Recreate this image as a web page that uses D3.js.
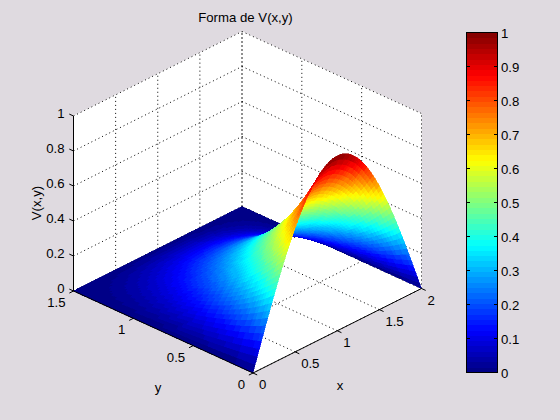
<!DOCTYPE html>
<html><head><meta charset="utf-8">
<script src="https://cdn.jsdelivr.net/npm/d3@7"></script>
<style>
html,body{margin:0;padding:0;background:#dfdae0;}
svg{display:block;}
text{font-family:"Liberation Sans",Arial,sans-serif;font-size:13.2px;fill:#000;}
</style></head><body>
<div id="chart"></div>
<script>
// Data
const titleText = "Forma de V(x,y)";
const xTicks = [0, 0.5, 1, 1.5, 2];
const yTicks = [0, 0.5, 1, 1.5];
const zTicks = [0, 0.2, 0.4, 0.6, 0.8, 1];
const barTicks = [0, 0.1, 0.2, 0.3, 0.4, 0.5, 0.6, 0.7, 0.8, 0.9, 1];
const xLabels = ["0", "0.5", "1", "1.5", "2"];
const yLabels = ["0", "0.5", "1", "1.5"];
const xStart = 0, xEnd = 2, yStart = 0, yEnd = 1.5;
// V along the edge y=0, at equal steps over x in [0,2]
const ridgeProfile = [0,.0393,.0785,.1175,.1564,.1951,.2334,.2714,.3090,.3461,.3827,.4187,.4540,.4886,.5225,.5556,.5878,.6191,.6494,.6788,.7071,.7343,.7604,.7853,.8090,.8315,.8526,.8725,.8910,.9081,.9239,.9382,.9511,.9625,.9724,.9808,.9877,.9932,.9969,.9992,1,.9992,.9969,.9932,.9877,.9808,.9724,.9625,.9511,.9382,.9239,.9081,.8910,.8725,.8526,.8315,.8090,.7853,.7604,.7343,.7071,.6788,.6494,.6191,.5878,.5556,.5225,.4886,.4540,.4187,.3827,.3461,.3090,.2714,.2334,.1951,.1564,.1175,.0785,.0393,0];
// Falloff of V with y, at equal steps over y in [0,1.5]
const falloffProfile = [1,.9608,.9231,.8868,.8518,.8182,.7858,.7546,.7246,.6958,.6679,.6412,.6154,.5905,.5666,.5436,.5213,.4999,.4793,.4594,.4402,.4217,.4038,.3866,.3699,.3539,.3383,.3233,.3088,.2948,.2812,.2681,.2553,.2430,.2310,.2194,.2082,.1972,.1866,.1762,.1662,.1561,.1466,.1373,.1282,.1193,.1105,.1019,.0935,.0852,.0771,.0690,.0611,.0532,.0455,.0378,.0302,.0226,.0150,.0075,0];

const W = 560, H = 420;
const svg = d3.select("#chart").append("svg").attr("width", W).attr("height", H);

// Projection: each data axis contributes a screen offset through its own scales
const originX = 253, originY = 373;
const xToPx = d3.scaleLinear().domain([0, 2]).range([0, 168.5]);
const xToPy = d3.scaleLinear().domain([0, 2]).range([0, -84.5]);
const yToPx = d3.scaleLinear().domain([0, 1.5]).range([0, -179.5]);
const yToPy = d3.scaleLinear().domain([0, 1.5]).range([0, -82]);
const zToPy = d3.scaleLinear().domain([0, 1]).range([0, -175]);
const P = (x, y, z) => [originX + xToPx(x) + yToPx(y), originY + xToPy(x) + yToPy(y) + zToPy(z)];
const poly = pts => pts.map(p => p.join(",")).join(" ");

// 64-level jet colormap
const clamp01 = v => Math.max(0, Math.min(1, v));
const jetColors = d3.range(64).map(i => {
  const t = (i + 0.5) / 64;
  const r = clamp01(Math.min(4 * t - 1.5, -4 * t + 4.5));
  const g = clamp01(Math.min(4 * t - 0.5, -4 * t + 3.5));
  const b = clamp01(Math.min(4 * t + 0.5, -4 * t + 2.5));
  return d3.rgb(r * 255, g * 255, b * 255).formatHex();
});
const colorScale = d3.scaleQuantize().domain([0, 1]).range(jetColors);

// Box: floor and the two back walls
const boxG = svg.append("g");
const faces = [
  [P(0,0,0), P(2,0,0), P(2,1.5,0), P(0,1.5,0)],
  [P(0,1.5,0), P(2,1.5,0), P(2,1.5,1), P(0,1.5,1)],
  [P(2,1.5,0), P(2,0,0), P(2,0,1), P(2,1.5,1)]
];
boxG.selectAll("polygon").data(faces).join("polygon")
  .attr("points", poly).attr("fill", "#fff").attr("stroke", "#fff").attr("stroke-width", 0.5);

// Dotted grid
const gridSegs = [];
xTicks.forEach(x => {
  gridSegs.push([P(x,0,0), P(x,1.5,0)]);
  gridSegs.push([P(x,1.5,0), P(x,1.5,1)]);
});
yTicks.forEach(y => {
  gridSegs.push([P(2,y,0), P(2,y,1)]);
  gridSegs.push([P(0,y,0), P(2,y,0)]);
});
zTicks.forEach(z => {
  gridSegs.push([P(0,1.5,z), P(2,1.5,z)]);
  gridSegs.push([P(2,1.5,z), P(2,0,z)]);
});
boxG.append("g").selectAll("line").data(gridSegs).join("line")
  .attr("x1", d => d[0][0]).attr("y1", d => d[0][1])
  .attr("x2", d => d[1][0]).attr("y2", d => d[1][1])
  .attr("stroke", "#000").attr("stroke-width", 1).attr("stroke-dasharray", "1 3");

// Surface cells, far corner first
const xGrid = ridgeProfile.map((_, i) => xStart + (xEnd - xStart) * i / (ridgeProfile.length - 1));
const yGrid = falloffProfile.map((_, j) => yStart + (yEnd - yStart) * j / (falloffProfile.length - 1));
const V = (i, j) => ridgeProfile[i] * falloffProfile[j];
const cells = [];
for (let i = xGrid.length - 2; i >= 0; i--) {
  for (let j = yGrid.length - 2; j >= 0; j--) {
    const corners = [[i,j],[i+1,j],[i+1,j+1],[i,j+1]];
    cells.push({
      pts: corners.map(([a,b]) => P(xGrid[a], yGrid[b], V(a,b))),
      v: d3.mean(corners, ([a,b]) => V(a,b))
    });
  }
}
svg.append("g").attr("shape-rendering", "crispEdges")
  .selectAll("polygon").data(cells).join("polygon")
  .attr("points", d => poly(d.pts))
  .attr("fill", d => colorScale(d.v))
  .attr("stroke", d => colorScale(d.v))
  .attr("stroke-width", 0.6);

// Solid axis lines and ticks
const axisSegs = [
  [P(0,0,0), P(2,0,0)],
  [P(0,0,0), P(0,1.5,0)],
  [P(0,1.5,0), P(0,1.5,1)]
];
const tickLen = 0.035;
xTicks.forEach(x => axisSegs.push([P(x,0,0), P(x,-tickLen,0)]));
yTicks.forEach(y => axisSegs.push([P(0,y,0), P(-tickLen*1.4,y,0)]));
zTicks.forEach(z => axisSegs.push([P(0,1.5,z), P(0,1.5+tickLen,z)]));
svg.append("g").selectAll("line").data(axisSegs).join("line")
  .attr("x1", d => d[0][0]).attr("y1", d => d[0][1])
  .attr("x2", d => d[1][0]).attr("y2", d => d[1][1])
  .attr("stroke", "#000").attr("stroke-width", 1);

// Tick labels
const labelsG = svg.append("g");
labelsG.selectAll("text.xl").data(xTicks).join("text").attr("class", "xl")
  .attr("x", d => P(d,0,0)[0] + 6).attr("y", d => P(d,0,0)[1] + 16)
  .attr("text-anchor", "start").text((d, i) => xLabels[i]);
labelsG.selectAll("text.yl").data(yTicks).join("text").attr("class", "yl")
  .attr("x", d => P(0,d,0)[0] - 8).attr("y", d => P(0,d,0)[1] + 16)
  .attr("text-anchor", "end").text((d, i) => yLabels[i]);
labelsG.selectAll("text.zl").data(zTicks).join("text").attr("class", "zl")
  .attr("x", d => P(0,1.5,d)[0] - 9).attr("y", d => P(0,1.5,d)[1] + 2)
  .attr("text-anchor", "end").text(d => d);

// Title and axis labels
svg.append("text").attr("x", 245.5).attr("y", 22).attr("text-anchor", "middle").text(titleText);
svg.append("text").attr("x", 340).attr("y", 390).attr("text-anchor", "middle").text("x");
svg.append("text").attr("x", 158).attr("y", 392).attr("text-anchor", "middle").text("y");
svg.append("text").attr("transform", "translate(40.5,203) rotate(-90)").attr("text-anchor", "middle").text("V(x,y)");

// Colorbar
const barX0 = 466.5, barX1 = 497, barTop = 32.5, barBottom = 372.5;
const barScale = d3.scaleLinear().domain([0, 1]).range([barBottom, barTop]);
const barG = svg.append("g").attr("shape-rendering", "crispEdges");
barG.selectAll("rect").data(jetColors).join("rect")
  .attr("x", barX0).attr("width", barX1 - barX0)
  .attr("y", (d, i) => barScale((i + 1) / 64))
  .attr("height", (d, i) => barScale(i / 64) - barScale((i + 1) / 64) + 0.5)
  .attr("fill", d => d);
barG.append("rect").attr("x", barX0).attr("y", barTop).attr("width", barX1 - barX0).attr("height", barBottom - barTop)
  .attr("fill", "none").attr("stroke", "#000");
barG.selectAll("line.l").data(barTicks).join("line").attr("class", "l")
  .attr("x1", barX0).attr("x2", barX0 + 3).attr("y1", d => barScale(d)).attr("y2", d => barScale(d)).attr("stroke", "#000");
barG.selectAll("line.r").data(barTicks).join("line").attr("class", "r")
  .attr("x1", barX1 - 3).attr("x2", barX1).attr("y1", d => barScale(d)).attr("y2", d => barScale(d)).attr("stroke", "#000");
svg.append("g").selectAll("text").data(barTicks).join("text")
  .attr("x", 501).attr("y", d => barScale(d) + 5).text(d => d);
</script>
</body></html>
